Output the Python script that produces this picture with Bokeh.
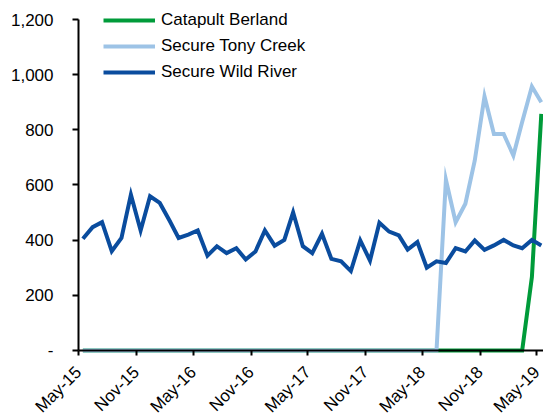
import math
import pandas as pd
from datetime import datetime, timedelta
from bokeh.plotting import figure
from bokeh.models import Range1d, FixedTicker, Legend, LegendItem, DatetimeTickFormatter
from bokeh.embed import file_html
from bokeh.resources import INLINE

# Monthly data, May-15 .. May-19 (49 months)
months = pd.date_range("2015-05-01", "2019-05-01", freq="MS") + pd.Timedelta(days=14)

catapult_berland = [0, 0, 0, 0, 0, 0, 0, 0, 0, 0,
                    0, 0, 0, 0, 0, 0, 0, 0, 0, 0,
                    0, 0, 0, 0, 0, 0, 0, 0, 0, 0,
                    0, 0, 0, 0, 0, 0, 0, 0, 0, 0,
                    0, 0, 0, 0, 0, 0, 0, 266, 858]
secure_tony_creek = [0, 0, 0, 0, 0, 0, 0, 0, 0, 0,
                     0, 0, 0, 0, 0, 0, 0, 0, 0, 0,
                     0, 0, 0, 0, 0, 0, 0, 0, 0, 0,
                     0, 0, 0, 0, 0, 0, 0, 0, 619, 465,
                     532, 689, 921, 785, 785, 707, 828, 957, 900]
secure_wild_river = [405, 447, 465, 360, 408, 565, 435, 559, 535, 471,
                     408, 420, 435, 344, 378, 353, 371, 330, 359, 435,
                     380, 401, 501, 378, 353, 423, 332, 323, 288, 399,
                     326, 463, 431, 417, 366, 393, 300, 323, 317, 371,
                     359, 399, 365, 381, 401, 381, 371, 401, 381]

series_names = ["Catapult Berland", "Secure Tony Creek", "Secure Wild River"]
series_colors = ["#009B3A", "#9DC3E6", "#0A4C9E"]

x_ticks = pd.to_datetime(["2015-05-01", "2015-11-01", "2016-05-01", "2016-11-01", "2017-05-01",
                          "2017-11-01", "2018-05-01", "2018-11-01", "2019-05-01"])
y_ticks = [0, 200, 400, 600, 800, 1000, 1200]
y_labels = ["-", "200", "400", "600", "800", "1,000", "1,200"]

FONT = "Liberation Sans"

# The frame fills the whole canvas; both axes are drawn at fixed data locations
axis_origin = datetime(2015, 5, 1)
p = figure(width=543, height=416, x_axis_type="datetime",
           x_range=Range1d(axis_origin - timedelta(days=248.6), axis_origin + timedelta(days=1482)),
           y_range=Range1d(-239.3, 1268.9),
           output_backend="svg", toolbar_location=None,
           min_border_left=0, min_border_right=0, min_border_top=0, min_border_bottom=0)
p.outline_line_color = None
p.xgrid.grid_line_color = None
p.ygrid.grid_line_color = None

renderers = []
for vals, color in zip([catapult_berland, secure_tony_creek, secure_wild_river], series_colors):
    r = p.line(months, vals, line_color=color, line_width=4, line_join="miter")
    renderers.append(r)

legend = Legend(items=[LegendItem(label=n, renderers=[r]) for n, r in zip(series_names, renderers)],
                location=(103, 334), padding=0, margin=0, spacing=6,
                glyph_width=52, glyph_height=20, label_height=20, label_standoff=6,
                label_text_font=FONT, label_text_font_size="17px", label_text_color="#000000",
                background_fill_alpha=0, border_line_color=None)
p.add_layout(legend)

# Y axis drawn at May-15
yax = p.yaxis[0]
yax.fixed_location = pd.Timestamp(axis_origin).value / 1e6
yax.ticker = FixedTicker(ticks=y_ticks)
yax.major_label_overrides = {t: l for t, l in zip(y_ticks, y_labels)}
yax.bounds = (0, 1200)
yax.axis_line_color = "#000000"
yax.axis_line_width = 2
yax.major_tick_line_color = "#000000"
yax.major_tick_line_width = 2
yax.major_tick_in = 0
yax.major_tick_out = 6
yax.minor_tick_line_color = None
yax.major_label_standoff = 19
yax.major_label_text_font = FONT
yax.major_label_text_font_size = "17px"
yax.major_label_text_color = "#000000"

# X axis drawn at value 0
xax = p.xaxis[0]
xax.fixed_location = 0
xax.ticker = FixedTicker(ticks=[t.value / 1e6 for t in x_ticks])
xax.formatter = DatetimeTickFormatter(months="%b-%y", days="%b-%y", years="%b-%y")
xax.bounds = (pd.Timestamp(axis_origin).value / 1e6, pd.Timestamp("2019-06-01").value / 1e6)
xax.axis_line_color = "#000000"
xax.axis_line_width = 2
xax.major_tick_line_color = "#000000"
xax.major_tick_line_width = 2
xax.major_tick_in = 0
xax.major_tick_out = 5
xax.minor_tick_line_color = None
xax.major_label_orientation = math.pi / 4
xax.major_label_standoff = 14
xax.major_label_text_font = FONT
xax.major_label_text_font_size = "17px"
xax.major_label_text_color = "#000000"

open("out.html", "w").write(file_html(p, INLINE))
